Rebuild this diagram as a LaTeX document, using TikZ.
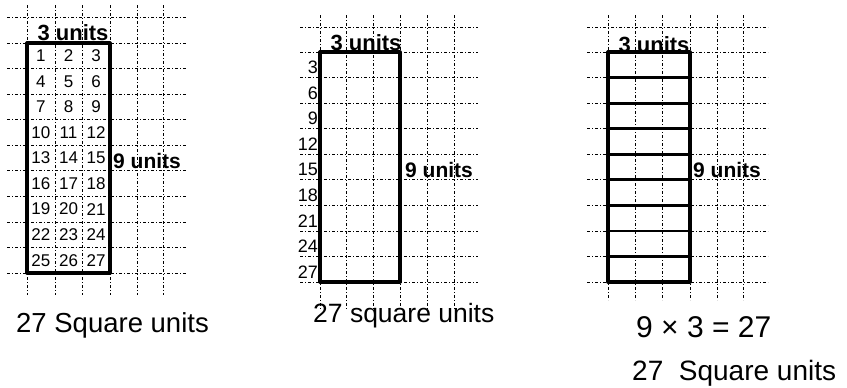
\documentclass[tikz,border=0pt]{standalone}
\usepackage{fontspec}
\setmainfont{Liberation Sans}
\begin{document}
\begin{tikzpicture}[x=1pt,y=-1pt,
  gridline/.style={line width=0.8pt, dash pattern=on 3pt off 2pt on 1pt off 2pt},
  framebox/.style={line width=3.2pt, line join=round},
  rowline/.style={line width=2.8pt},
  unitlbl/.style={font=\fontsize{22}{24}\selectfont\bfseries, inner sep=0pt},
  sidelbl/.style={font=\fontsize{21}{24}\selectfont\bfseries, inner sep=0pt, anchor=base west},
  cellnum/.style={font=\fontsize{17}{19}\selectfont, inner sep=0pt},
  sidenum/.style={font=\fontsize{18}{20}\selectfont, inner sep=0pt, anchor=east},
  bigtxt/.style={inner sep=0pt, anchor=base west}]
\useasboundingbox (0,0) rectangle (847,388);

% ---------- left panel grid ----------
\foreach \x in {27,55,82,110,137,163} \draw[gridline] (\x,5) -- (\x,295);
\draw[gridline] (7,17) -- (187,17);
\foreach \k in {0,...,9} \draw[gridline] (7,{43+25.56*\k}) -- (187,{43+25.56*\k});
\coordinate (LA) at (27,43);
\coordinate (LB) at (110,273);
\draw[framebox] (LA) rectangle (LB);
\foreach \r in {0,...,8} \foreach \c in {0,1,2} {
  \pgfmathtruncatemacro\n{3*\r+\c+1}
  \node[cellnum] (c\n) at ({27+27.67*(\c+0.5)},{43+25.56*(\r+0.5)}) {\n};
}
\node[unitlbl, anchor=base] (l3u) at (73,40) {3 units};
\node[sidelbl] (l9u) at (113,168) {9 units};
\node[bigtxt, font=\fontsize{27.5}{30}\selectfont] (l27) at (16,332) {27 Square units};

% ---------- middle panel grid ----------
\foreach \x in {320,346,373,400,427,454} \draw[gridline] (\x,15) -- (\x,310);
\draw[gridline] (300,27) -- (478,27);
\foreach \k in {0,...,9} \draw[gridline] (300,{52+25.56*\k}) -- (478,{52+25.56*\k});
\coordinate (MA) at (320,52);
\coordinate (MB) at (400,282);
\draw[framebox] (MA) rectangle (MB);
\foreach \k in {1,...,9} {
  \pgfmathtruncatemacro\v{3*\k}
  \node[sidenum] (m\v) at (318,{52+25.56*\k-10}) {\v};
}
\node[unitlbl, anchor=base] (m3u) at (366,50) {3 units};
\node[sidelbl] (m9u) at (405,177) {9 units};
\node[bigtxt, font=\fontsize{26.5}{30}\selectfont] (m27) at (313,322) {27 square units};

% ---------- right panel grid ----------
\foreach \x in {608,635,662,690,717,743} \draw[gridline] (\x,15) -- (\x,300);
\draw[gridline] (587,27) -- (768,27);
\foreach \k in {0,...,9} \draw[gridline] (587,{52+25.56*\k}) -- (768,{52+25.56*\k});
\coordinate (RA) at (608,52);
\coordinate (RB) at (690,282);
\foreach \k in {1,...,8} \draw[rowline] (608,{52+25.56*\k}) -- (690,{52+25.56*\k});
\draw[framebox] (RA) rectangle (RB);
\node[unitlbl, anchor=base] (r3u) at (654,52) {3 units};
\node[sidelbl] (r9u) at (693,177) {9 units};
\node[bigtxt, font=\fontsize{30}{32}\selectfont] (rmul) at (636,337) {9 × 3 = 27};
\node[bigtxt, font=\fontsize{28}{30}\selectfont] (r27) at (632,380) {27\ \ Square units};
\end{tikzpicture}
\end{document}
